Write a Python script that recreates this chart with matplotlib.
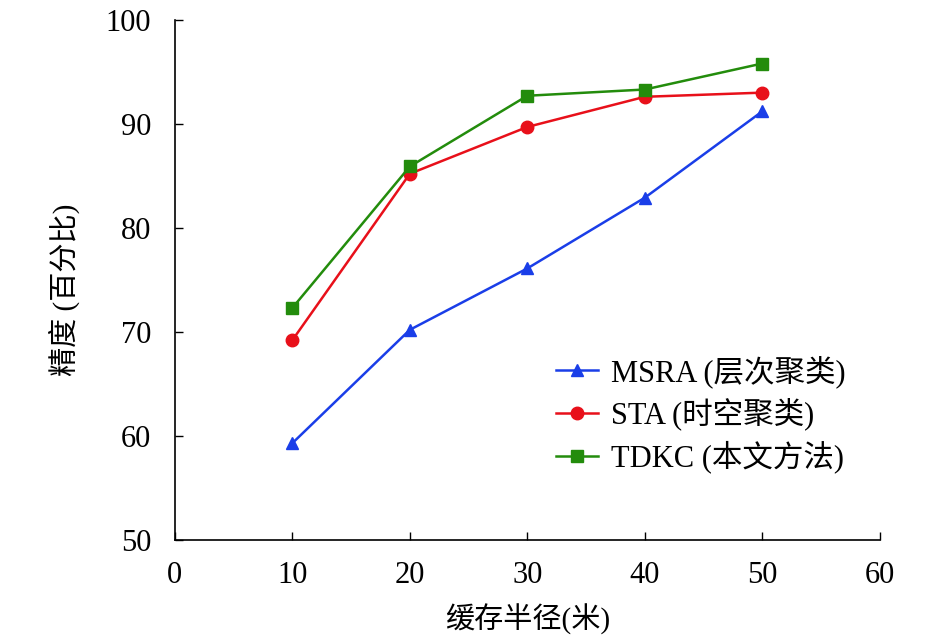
import matplotlib
matplotlib.use("Agg")
import matplotlib.pyplot as plt

plt.rcParams['font.family'] = ['Liberation Serif', 'Noto Sans CJK SC', 'DejaVu Sans']

# data
radius = [10, 20, 30, 40, 50]
msra = [59.3, 70.2, 76.1, 82.9, 91.2]
sta = [69.2, 85.2, 89.7, 92.6, 93.0]
tdkc = [72.3, 85.9, 92.7, 93.3, 95.8]
labels = ["MSRA (层次聚类)", "STA (时空聚类)", "TDKC (本文方法)"]

fig = plt.figure(figsize=(9.45, 6.39), dpi=100)
ax = fig.add_axes([0.185, 0.155, 0.746, 0.814])

ax.plot(radius, msra, color='#1a3ee8', marker='^', markersize=9, linewidth=1.8, label=labels[0])
ax.plot(radius, sta, color='#e8101a', marker='o', markersize=9, linewidth=1.8, label=labels[1])
ax.plot(radius, tdkc, color='#238c0c', marker='s', markersize=9, linewidth=1.8, label=labels[2])

ax.set_xlim(0, 60)
ax.set_ylim(50, 100)
ax.set_xticks(range(0, 61, 10))
ax.set_yticks(range(50, 101, 10))
ax.tick_params(labelsize=22, direction='in', length=6, width=1)
ax.tick_params(axis='y', pad=17)
ax.tick_params(axis='x', pad=15)
ax.spines['top'].set_visible(False)
ax.spines['right'].set_visible(False)
ax.spines['left'].set_linewidth(1.2)
ax.spines['bottom'].set_linewidth(1.2)

ax.set_xlabel("缓存半径(米)", fontsize=21)
ax.set_ylabel("精度 (百分比)", fontsize=21)
ax.xaxis.set_label_coords(0.5, -0.123)
ax.yaxis.set_label_coords(-0.135, 0.48)

ax.legend(loc='upper left', bbox_to_anchor=(0.54, 0.355), frameon=False, fontsize=22,
          handlelength=1.4, handletextpad=0.4, labelspacing=0.32,
          borderaxespad=0, borderpad=0)

fig.savefig("out.png", dpi=100)
